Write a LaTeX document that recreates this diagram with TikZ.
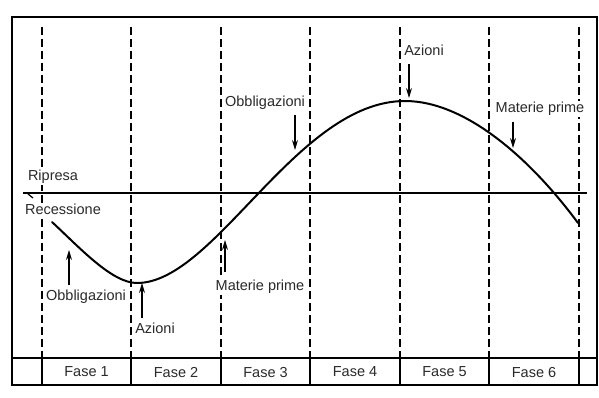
\documentclass[tikz,border=0pt]{standalone}
\usepackage{fontspec}
\setmainfont{Liberation Sans}
\usetikzlibrary{arrows.meta}
\definecolor{txt}{HTML}{2A2A2A}
\begin{document}
\begin{tikzpicture}[x=1pt,y=-1pt,
  lbl/.style={font=\fontsize{14.5}{16}\selectfont,text=txt,fill=white,inner sep=1pt},
  fase/.style={font=\fontsize{14.5}{16}\selectfont,text=txt,inner sep=0pt},
  dline/.style={line width=1.3pt,dash pattern=on 8pt off 4pt},
  marrow/.style={line width=1.1pt,-{Stealth[length=10pt,width=6pt]}},
  curve/.style={line width=2pt,line cap=round}]
\useasboundingbox (0,0) rectangle (599,397);
% frame
\draw[line width=1.8pt] (12,17) rectangle (597,385);
% table line
\coordinate (tl) at (12,358);
\coordinate (tr) at (597,358);
\draw[line width=1.3pt] (tl) -- (tr);
% dashed verticals
\foreach \x in {42,131,221,310,400,489,579}{
  \draw[dline] (\x,27) -- (\x,358);
  \draw[line width=1.1pt] (\x,358) -- (\x,385);
}
% baseline
\coordinate (bl) at (23,193);
\coordinate (br) at (587,193);
\draw[line width=1.4pt] (bl) -- (br);
\draw[line width=1.2pt] (28,194) -- (33,198);
% curve
\coordinate (c0) at (52,222);
\coordinate (cmin) at (137,283);
\coordinate (cmax) at (405,101);
\coordinate (c1) at (578,223);
\draw[curve] (c0) .. controls (80,248) and (112,283) .. (cmin)
  .. controls (215,283) and (297,101) .. (cmax)
  .. controls (465,101) and (530,158) .. (c1);
% labels
\node[lbl] (ripresa) at (53,177) {Ripresa};
\node[lbl] (recess) at (63,209) {Recessione};
\node[lbl] (obbU) at (265,103) {Obbligazioni};
\node[lbl] (azU) at (424,50) {Azioni};
\node[lbl] (matU) at (540,109) {Materie prime};
\node[lbl] (obbL) at (86,297) {Obbligazioni};
\node[lbl] (azL) at (155,328) {Azioni};
\node[lbl] (matL) at (260,287) {Materie prime};
% arrows
\coordinate (a1s) at (295,115); \coordinate (a1e) at (295,150);
\coordinate (a2s) at (409,64);  \coordinate (a2e) at (409,98);
\coordinate (a3s) at (513,122); \coordinate (a3e) at (513,148);
\coordinate (a4s) at (69,285);  \coordinate (a4e) at (69,250);
\coordinate (a5s) at (142,318); \coordinate (a5e) at (142,283);
\coordinate (a6s) at (225,272); \coordinate (a6e) at (225,240);
\foreach \s/\e in {a1s/a1e,a2s/a2e,a3s/a3e,a4s/a4e,a5s/a5e,a6s/a6e}
  \draw[marrow] (\s) -- (\e);
% fasi
\node[fase] (f1) at (86.5,372) {Fase 1};
\node[fase] (f2) at (176,372) {Fase 2};
\node[fase] (f3) at (265.5,372) {Fase 3};
\node[fase] (f4) at (355,372) {Fase 4};
\node[fase] (f5) at (444.5,372) {Fase 5};
\node[fase] (f6) at (534,372) {Fase 6};
\end{tikzpicture}
\end{document}
